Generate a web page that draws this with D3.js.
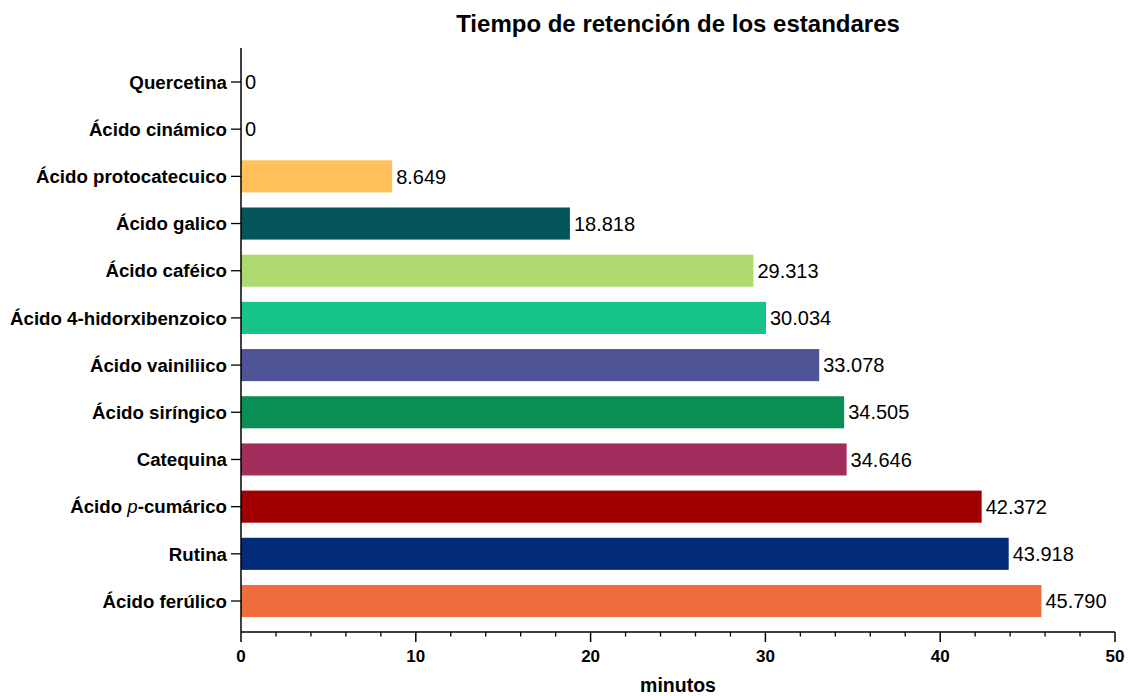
<!DOCTYPE html>
<html>
<head>
<meta charset="utf-8">
<script src="https://cdn.jsdelivr.net/npm/d3@7"></script>
<style>
  body { margin: 0; background: #fff; }
  svg { display: block; font-family: "Liberation Sans", Arial, sans-serif; }
</style>
</head>
<body>
<svg id="chart" width="1130" height="696"></svg>
<script>
// Retention time of each standard (minutes), top to bottom
const compounds = [
  "Quercetina", "Ácido cinámico", "Ácido protocatecuico", "Ácido galico",
  "Ácido caféico", "Ácido 4-hidorxibenzoico", "Ácido vainiliico",
  "Ácido siríngico", "Catequina", "Ácido p-cumárico", "Rutina", "Ácido ferúlico"
];
const retention = [0, 0, 8.649, 18.818, 29.313, 30.034, 33.078, 34.505, 34.646, 42.372, 43.918, 45.790];
const barColors = [
  "#000000", "#000000", "#FFC05A", "#03555A", "#ADD96F", "#17C487",
  "#4E5496", "#0A8E55", "#A12E5C", "#A00000", "#022C7A", "#EF6C3D"
];
const xTicks = [0, 10, 20, 30, 40, 50];

const svg = d3.select("#chart");
const left = 241, right = 1115, axisY = 632, axisTop = 48;

const x = d3.scaleLinear().domain([0, 50]).range([left, right]);
const y = d3.scaleBand().domain(compounds).range([58.4, 624.6])
  .paddingInner(0.32).paddingOuter(0.16);

// Bars
svg.append("g").selectAll("rect")
  .data(compounds)
  .join("rect")
  .attr("x", x(0))
  .attr("y", d => y(d))
  .attr("width", (d, i) => x(retention[i]) - x(0))
  .attr("height", y.bandwidth())
  .attr("fill", (d, i) => barColors[i]);

// Value labels
svg.append("g").selectAll("text")
  .data(compounds)
  .join("text")
  .attr("x", (d, i) => x(retention[i]) + 4)
  .attr("y", d => y(d) + y.bandwidth() / 2)
  .attr("dy", "0.36em")
  .attr("font-size", 20)
  .attr("fill", "#000")
  .text((d, i) => retention[i] === 0 ? "0" : retention[i].toFixed(3));

// Y axis
const yAxis = svg.append("g").attr("transform", `translate(${left},0)`);
yAxis.append("line")
  .attr("x1", 0).attr("x2", 0).attr("y1", axisTop).attr("y2", axisY)
  .attr("stroke", "#000").attr("stroke-width", 1.5);
const yt = yAxis.selectAll("g.tick")
  .data(compounds)
  .join("g").attr("class", "tick")
  .attr("transform", d => `translate(0,${y(d) + y.bandwidth() / 2})`);
yt.append("line").attr("x1", -10).attr("x2", 0).attr("stroke", "#000").attr("stroke-width", 1.3);
yt.append("text")
  .attr("x", -14)
  .attr("dy", "0.36em")
  .attr("text-anchor", "end")
  .attr("font-size", 18.7)
  .attr("font-weight", "bold")
  .attr("fill", "#000")
  .each(function(d) {
    const t = d3.select(this);
    if (d === "Ácido p-cumárico") {
      t.append("tspan").text("Ácido ");
      t.append("tspan").attr("font-style", "italic").attr("font-weight", "normal").text("p");
      t.append("tspan").text("-cumárico");
    } else {
      t.text(d);
    }
  });

// X axis with major and minor ticks
const xAxis = svg.append("g").attr("transform", `translate(0,${axisY})`);
xAxis.append("line")
  .attr("x1", left).attr("x2", right)
  .attr("stroke", "#000").attr("stroke-width", 1.5);
xAxis.selectAll("line.minor")
  .data(d3.range(0, 51, 2).filter(v => v % 10 !== 0))
  .join("line").attr("class", "minor")
  .attr("x1", d => x(d)).attr("x2", d => x(d))
  .attr("y1", 0).attr("y2", 4.5)
  .attr("stroke", "#000").attr("stroke-width", 1.3);
xAxis.selectAll("line.major")
  .data(xTicks)
  .join("line").attr("class", "major")
  .attr("x1", d => x(d)).attr("x2", d => x(d))
  .attr("y1", 0).attr("y2", 10)
  .attr("stroke", "#000").attr("stroke-width", 1.5);
xAxis.selectAll("text")
  .data(xTicks)
  .join("text")
  .attr("x", d => x(d))
  .attr("y", 30)
  .attr("text-anchor", "middle")
  .attr("font-size", 17)
  .attr("font-weight", "bold")
  .attr("fill", "#000")
  .text(d => d);

// Axis title
svg.append("text")
  .attr("x", (left + right) / 2)
  .attr("y", 692)
  .attr("text-anchor", "middle")
  .attr("font-size", 19.5)
  .attr("font-weight", "bold")
  .text("minutos");

// Chart title
svg.append("text")
  .attr("x", (left + right) / 2)
  .attr("y", 32)
  .attr("text-anchor", "middle")
  .attr("font-size", 24)
  .attr("font-weight", "bold")
  .text("Tiempo de retención de los estandares");
</script>
</body>
</html>
